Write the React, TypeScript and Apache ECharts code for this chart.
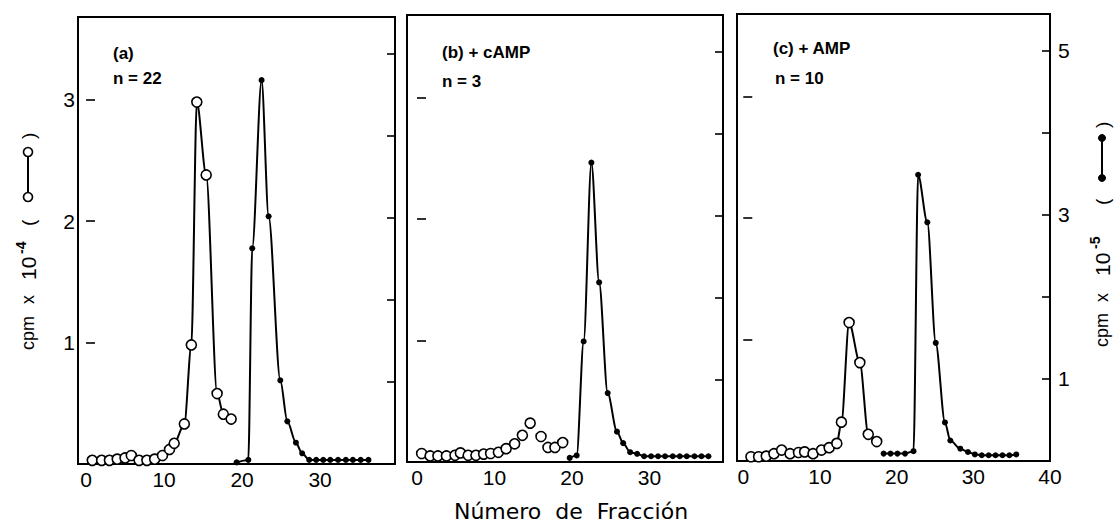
import React, { useEffect, useRef } from 'react';
import * as echarts from 'echarts';

// ---------- data (x = fraction number, y = cpm) ----------
const xTicksAB = [0, 10, 20, 30];
const xTicksC = [0, 10, 20, 30, 40];
const leftTickLabels = [1, 2, 3]; // cpm x 10^-4 (open circles)
const rightTickLabels = [1, 3, 5]; // cpm x 10^-5 (filled dots)

const panelTitles = ['(a)', '(b) + cAMP', '(c) + AMP'];
const panelN = ['n = 22', 'n = 3', 'n = 10'];

// panel (a)
const aOpen: [number, number][] = [
  [0.8, 0.03], [2.0, 0.03], [3.0, 0.03], [4.0, 0.04], [5.0, 0.05], [5.8, 0.07],
  [6.8, 0.03], [7.8, 0.03], [8.8, 0.04], [9.8, 0.07], [10.7, 0.12], [11.3, 0.17],
  [12.6, 0.33], [13.5, 0.98], [14.2, 2.98], [15.4, 2.38], [16.8, 0.58], [17.6, 0.41],
  [18.6, 0.37],
];
const aFilled: [number, number][] = [
  [19.3, 0.02], [20.8, 0.05], [21.3, 2.63], [22.5, 4.68], [23.4, 3.02], [24.9, 1.02],
  [25.8, 0.52], [26.9, 0.26], [27.7, 0.13], [28.6, 0.05], [29.5, 0.05], [30.4, 0.05],
  [31.3, 0.05], [32.3, 0.05], [33.3, 0.05], [34.2, 0.05], [35.2, 0.05], [36.2, 0.05],
];

// panel (b)
const bOpen: [number, number][] = [
  [0.6, 0.07], [1.7, 0.05], [2.7, 0.05], [3.8, 0.05], [4.9, 0.055], [5.6, 0.075],
  [6.6, 0.055], [7.6, 0.055], [8.6, 0.065], [9.5, 0.07], [10.5, 0.08], [11.5, 0.11],
  [12.6, 0.15], [13.6, 0.22], [14.6, 0.32], [16.0, 0.21], [16.9, 0.12], [17.8, 0.12],
  [18.8, 0.16],
];
const bFilled: [number, number][] = [
  [19.7, 0.05], [20.6, 0.08], [21.5, 1.47], [22.5, 3.65], [23.5, 2.19], [24.6, 0.84],
  [25.8, 0.37], [26.6, 0.23], [27.5, 0.12], [28.4, 0.1], [29.3, 0.07], [30.2, 0.07],
  [31.1, 0.07], [32.0, 0.07], [33.0, 0.07], [33.9, 0.07], [34.8, 0.07], [35.8, 0.07],
  [36.7, 0.07], [37.6, 0.07],
];

// panel (c)
const cOpen: [number, number][] = [
  [1.0, 0.035], [2.0, 0.035], [3.0, 0.04], [4.0, 0.06], [5.0, 0.09], [6.1, 0.06],
  [7.2, 0.07], [8.0, 0.075], [9.1, 0.06], [10.2, 0.09], [11.2, 0.11], [12.2, 0.145],
  [12.8, 0.32], [13.8, 1.14], [15.2, 0.81], [16.3, 0.22], [17.4, 0.16],
];
const cFilled: [number, number][] = [
  [18.3, 0.09], [19.2, 0.09], [20.1, 0.09], [21.1, 0.09], [22.2, 0.12], [22.8, 3.49],
  [24.0, 2.91], [25.1, 1.44], [26.3, 0.47], [27.0, 0.25], [28.3, 0.15], [29.3, 0.11],
  [30.2, 0.08], [31.1, 0.07], [32.0, 0.07], [32.9, 0.07], [33.8, 0.07], [34.7, 0.07],
  [35.6, 0.08],
];

const FONT = '"Liberation Sans", Arial, sans-serif';
const LABEL_FONT = '"DejaVu Sans", "Liberation Sans", sans-serif';

function buildOption() {
  const grids = [
    { left: 78, top: 17, width: 317, height: 447 },
    { left: 407, top: 15, width: 316, height: 447 },
    { left: 737, top: 14, width: 313, height: 447 },
  ];
  const xExtents = [
    [-1.03, 39.6],
    [-1.29, 39.48],
    [-0.82, 40.0],
  ];
  const xTickSets = [xTicksAB, xTicksAB, xTicksC];

  const xAxis = grids.map((_, i) => ({
    type: 'value',
    gridIndex: i,
    min: xExtents[i][0],
    max: xExtents[i][1],
    axisLine: { show: false },
    axisTick: { show: false },
    splitLine: { show: false },
    axisLabel: {
      customValues: xTickSets[i],
      color: '#000',
      fontSize: 21,
      fontFamily: FONT,
      margin: 5,
    },
  }));

  const yAxis: any[] = [];
  grids.forEach((_, i) => {
    yAxis.push({
      type: 'value',
      gridIndex: i,
      position: 'left',
      min: 0,
      max: 3.68,
      interval: 1,
      axisLine: { show: false },
      axisTick: { show: true, inside: true, length: 9, lineStyle: { color: '#000', width: 1.6 } },
      splitLine: { show: false },
      axisLabel: {
        show: i === 0,
        color: '#000',
        fontSize: 21,
        fontFamily: FONT,
        margin: 3,
        formatter: (v: number) => (leftTickLabels.includes(v) ? String(v) : ''),
      },
    });
    yAxis.push({
      type: 'value',
      gridIndex: i,
      position: 'right',
      min: 0,
      max: 5.45,
      interval: 1,
      axisLine: { show: false },
      axisTick: { show: true, inside: true, length: 8, lineStyle: { color: '#000', width: 1.6 } },
      splitLine: { show: false },
      axisLabel: {
        show: i === 2,
        color: '#000',
        fontSize: 21,
        fontFamily: FONT,
        margin: 8,
        formatter: (v: number) => (rightTickLabels.includes(v) ? String(v) : ''),
      },
    });
  });

  const openLine = (data: [number, number][], i: number) => ({
    type: 'line',
    xAxisIndex: i,
    yAxisIndex: 2 * i,
    data,
    smooth: 0.3,
    smoothMonotone: 'x',
    symbol: 'circle',
    symbolSize: 10,
    lineStyle: { color: '#000', width: 2 },
    itemStyle: { color: '#fff', borderColor: '#000', borderWidth: 1.6 },
    z: 3,
  });
  const openScatter = (data: [number, number][], i: number) => ({
    type: 'scatter',
    xAxisIndex: i,
    yAxisIndex: 2 * i,
    data,
    symbol: 'circle',
    symbolSize: 10,
    itemStyle: { color: '#fff', borderColor: '#000', borderWidth: 1.6, opacity: 1 },
    z: 3,
  });
  const filledLine = (data: [number, number][], i: number) => ({
    type: 'line',
    xAxisIndex: i,
    yAxisIndex: 2 * i + 1,
    data,
    smooth: 0.3,
    smoothMonotone: 'x',
    symbol: 'circle',
    symbolSize: 6,
    lineStyle: { color: '#000', width: 2 },
    itemStyle: { color: '#000', borderWidth: 0 },
    z: 3,
  });

  const series = [
    openLine(aOpen, 0),
    filledLine(aFilled, 0),
    openScatter(bOpen, 1),
    filledLine(bFilled, 1),
    openLine(cOpen, 2),
    filledLine(cFilled, 2),
  ];

  const txt = (x: number, y: number, text: string, fontSize: number, extra: any = {}) => ({
    type: 'text',
    x,
    y,
    style: {
      text,
      fill: '#000',
      fontSize,
      fontFamily: FONT,
      align: 'left',
      verticalAlign: 'middle',
      textAlign: 'left',
      textVerticalAlign: 'middle',
      ...extra,
    },
  });

  const annot = [
    txt(113, 53, panelTitles[0], 17, { fontWeight: 'bold' }),
    txt(113, 78, panelN[0], 17, { fontWeight: 'bold' }),
    txt(442, 52, panelTitles[1], 17, { fontWeight: 'bold' }),
    txt(442, 81, panelN[1], 17, { fontWeight: 'bold' }),
    txt(773, 48, panelTitles[2], 17, { fontWeight: 'bold' }),
    txt(775, 78, panelN[2], 17, { fontWeight: 'bold' }),
  ];

  // rotated y-axis titles with line+marker legend
  const leftTitle = {
    type: 'group',
    x: 28,
    y: 350,
    rotation: Math.PI / 2,
    children: [
      txt(0, 0, 'cpm', 18),
      txt(46, 0, 'x', 18),
      txt(70, 0, '10', 21),
      txt(96, -7, '-4', 14, { fontWeight: 'bold' }),
      txt(124, 0, '(', 19),
      { type: 'line', shape: { x1: 153, y1: 0, x2: 198, y2: 0 }, style: { stroke: '#000', lineWidth: 2 } },
      { type: 'circle', shape: { cx: 153, cy: 0, r: 4.5 }, style: { fill: '#fff', stroke: '#000', lineWidth: 1.6 } },
      { type: 'circle', shape: { cx: 198, cy: 0, r: 4.5 }, style: { fill: '#fff', stroke: '#000', lineWidth: 1.6 } },
      txt(211, 0, ')', 19),
    ],
  };
  const rightTitle = {
    type: 'group',
    x: 1102,
    y: 347,
    rotation: Math.PI / 2,
    children: [
      txt(0, 0, 'cpm', 18),
      txt(45, 0, 'x', 18),
      txt(71, 0, '10', 21),
      txt(98, -7, '-5', 14, { fontWeight: 'bold' }),
      txt(142, 0, '(', 19),
      { type: 'line', shape: { x1: 169, y1: 0, x2: 209, y2: 0 }, style: { stroke: '#000', lineWidth: 2 } },
      { type: 'circle', shape: { cx: 169, cy: 0, r: 3.5 }, style: { fill: '#000', stroke: '#000', lineWidth: 1 } },
      { type: 'circle', shape: { cx: 209, cy: 0, r: 3.5 }, style: { fill: '#000', stroke: '#000', lineWidth: 1 } },
      txt(219, 0, ')', 19),
    ],
  };

  const xName = {
    type: 'text',
    x: 571,
    y: 511,
    style: {
      text: 'Número  de  Fracción',
      fill: '#000',
      fontSize: 22,
      fontFamily: LABEL_FONT,
      align: 'center',
      verticalAlign: 'middle',
      textAlign: 'center',
      textVerticalAlign: 'middle',
    },
  };

  return {
    animation: false,
    backgroundColor: '#fff',
    grid: grids.map((g) => ({ ...g, show: true, borderColor: '#000', borderWidth: 2, backgroundColor: 'transparent' })),
    xAxis,
    yAxis,
    series,
    graphic: [...annot, leftTitle, rightTitle, xName],
  };
}

export default function App() {
  const ref = useRef<HTMLDivElement>(null);
  useEffect(() => {
    if (!ref.current) return;
    const chart = echarts.init(ref.current, undefined, { renderer: 'svg' });
    chart.setOption(buildOption() as any);
    return () => chart.dispose();
  }, []);
  return (
    <div
      ref={ref}
      style={{ position: 'fixed', left: 0, top: 0, width: 1118, height: 525, background: '#fff' }}
    />
  );
}
